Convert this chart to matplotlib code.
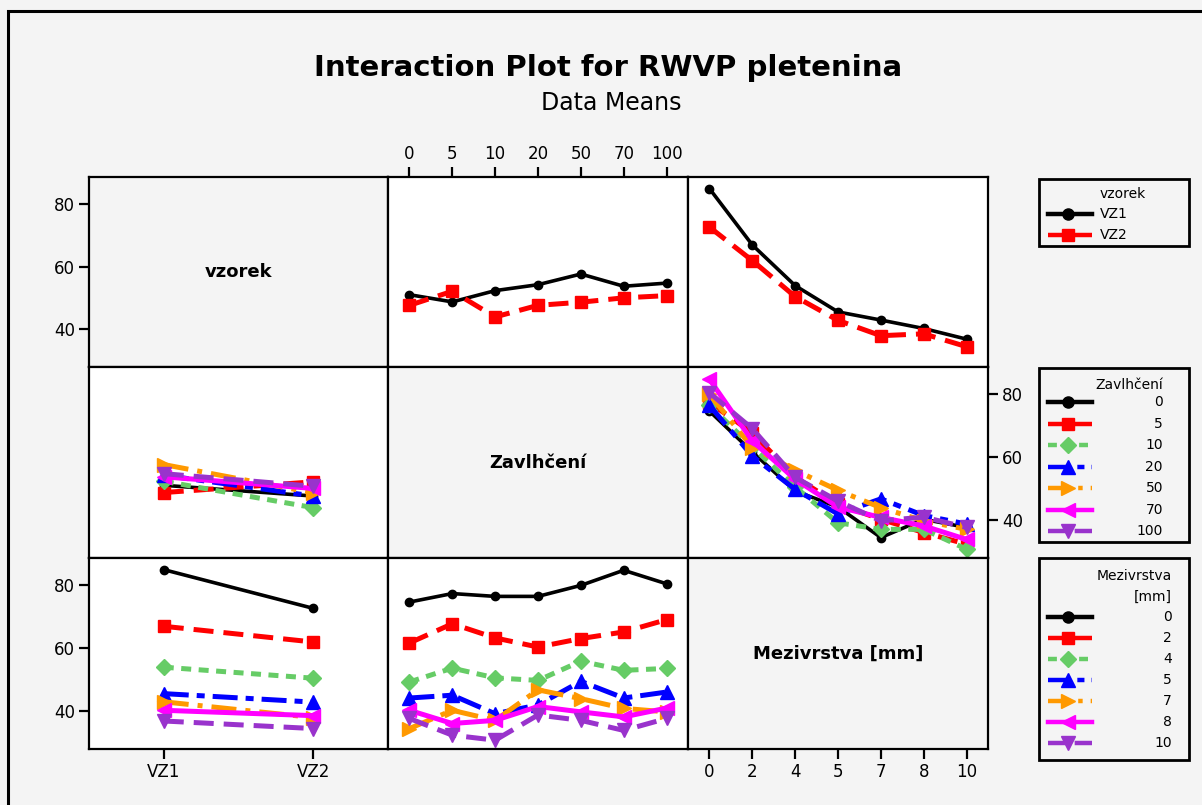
import numpy as np
import matplotlib.pyplot as plt
from matplotlib.patches import Rectangle

W, H = 1202, 805

# factor levels
vzorek = ['VZ1', 'VZ2']
zavlhceni = ['0', '5', '10', '20', '50', '70', '100']
mezivrstva = ['0', '2', '4', '5', '7', '8', '10']

# cell means, rows = first factor level, cols = second factor level
vz_zav = np.array([
    [51.1, 48.8, 52.4, 54.3, 57.7, 53.8, 54.8],
    [47.7, 52.2, 44.0, 47.7, 48.7, 50.1, 50.8],
])
vz_mez = np.array([
    [85.0, 67.0, 54.0, 45.6, 43.0, 40.3, 36.9],
    [72.7, 62.0, 50.5, 42.9, 38.0, 38.6, 34.5],
])
mez_zav = np.array([
    [74.7, 77.4, 76.5, 76.5, 80.0, 84.8, 80.5],
    [61.7, 67.8, 63.3, 60.4, 63.1, 65.2, 69.1],
    [49.3, 53.7, 50.6, 49.8, 55.9, 53.0, 53.6],
    [44.2, 45.1, 39.2, 42.0, 49.5, 44.2, 46.1],
    [34.5, 40.3, 37.1, 46.8, 44.0, 40.9, 39.8],
    [40.3, 36.1, 37.1, 41.5, 39.8, 38.2, 41.0],
    [37.7, 32.4, 30.8, 38.8, 37.1, 33.9, 37.7],
])

factors = {'vz': vzorek, 'zav': zavlhceni, 'mez': mezivrstva}
names = {'vz': 'vzorek', 'zav': 'Zavlhčení', 'mez': 'Mezivrstva [mm]'}
tables = {
    ('vz', 'zav'): vz_zav, ('zav', 'vz'): vz_zav.T,
    ('vz', 'mez'): vz_mez, ('mez', 'vz'): vz_mez.T,
    ('mez', 'zav'): mez_zav, ('zav', 'mez'): mez_zav.T,
}
order = ['vz', 'zav', 'mez']

colors = ['black', '#ff0000', '#66cc66', '#0000ff', '#ff9900', '#ff00ff', '#9933cc']
markers = ['o', 's', 'D', '^', '>', '<', 'v']
dashes = [(None), (4, 2), (2, 1.5), (5, 1.6, 1.6, 1.6), (5, 1.8, 1, 1.8), (None), (4, 2)]
msizes = [6, 8, 8, 10, 10, 10, 10]

bg = '#f4f4f4'
fig = plt.figure(figsize=(W / 100, H / 100), dpi=100, facecolor=bg)
fig.add_artist(Rectangle((8 / W, -0.05), 1.2, 1 - 11 / H + 0.05, fill=False,
                         lw=2.2, ec='black', transform=fig.transFigure))

fig.text(608 / W, 1 - 68 / H, 'Interaction Plot for RWVP pletenina',
         ha='center', va='center', fontsize=21, fontweight='bold')
fig.text(611 / W, 1 - 103 / H, 'Data Means', ha='center', va='center', fontsize=17)

cols = [89, 388, 688, 988]
rows = [177, 367, 558, 749]


def style(k):
    kw = dict(color=colors[k], marker=markers[k], ms=msizes[k],
              lw=2.6 if k == 0 else 3.6, mec=colors[k], mfc=colors[k])
    if dashes[k] is not None:
        kw['dashes'] = dashes[k]
    return kw


for r, fr in enumerate(order):
    for c, fc in enumerate(order):
        x0, x1 = cols[c], cols[c + 1]
        y0, y1 = rows[r], rows[r + 1]
        ax = fig.add_axes([x0 / W, 1 - y1 / H, (x1 - x0) / W, (y1 - y0) / H])
        nx = len(factors[fc])
        ax.set_xlim(0.5, nx + 0.5)
        ax.set_ylim(28.0, 88.7)
        for s in ax.spines.values():
            s.set_linewidth(1.6)
        ax.tick_params(length=7, width=1.6, labelsize=12, pad=3,
                       left=False, labelleft=False, bottom=False, labelbottom=False)
        ax.set_xticks(range(1, nx + 1))
        ax.set_xticklabels(factors[fc])
        ax.set_yticks([40, 60, 80])
        if r == c:
            ax.set_facecolor(bg)
            ax.text(0.5, 0.5, names[fr], transform=ax.transAxes, ha='center',
                    va='center', fontsize=13, fontweight='bold')
        else:
            ax.set_facecolor('white')
            tab = tables[(fr, fc)]
            xs = np.arange(1, nx + 1)
            for k, vals in enumerate(tab):
                ax.plot(xs, vals, **style(k))
        # tick placement on the outer edges of the matrix
        if (r, c) in [(0, 0), (2, 0)]:
            ax.tick_params(left=True, labelleft=True)
        if (r, c) == (1, 2):
            ax.tick_params(right=True, labelright=True)
        if (r, c) == (0, 1):
            ax.tick_params(top=True, labeltop=True)
        if (r, c) in [(2, 0), (2, 2)]:
            ax.tick_params(bottom=True, labelbottom=True)

# legends drawn on a pixel-space overlay
lax = fig.add_axes([0, 0, 1, 1], zorder=5)
lax.set_xlim(0, W)
lax.set_ylim(H, 0)
lax.axis('off')
lax.patch.set_alpha(0)


def legend_box(top, bottom, title_lines, labels, title_y, first_y, step, text_x, ha):
    lax.add_patch(Rectangle((1039, top), 150, bottom - top, fill=False, lw=2, ec='black'))
    for i, t in enumerate(title_lines):
        lax.text(text_x, title_y + i * 21, t, ha=ha, va='center', fontsize=10)
    for k, lab in enumerate(labels):
        y = first_y + k * step
        kw = style(k)
        kw['lw'] = 3.2
        if k == 0:
            kw['ms'] = 8
        lax.plot([1048, 1068, 1092], [y, y, y], markevery=[1], **kw)
        lax.text(text_x, y, lab, ha=ha, va='center', fontsize=10)


legend_box(179, 246, ['vzorek'], vzorek, 194, 214, 21, 1100, 'left')
legend_box(368, 542, ['Zavlhčení'], zavlhceni, 385, 402, 21.5, 1163, 'right')
legend_box(558, 760, ['Mezivrstva', '[mm]'], mezivrstva, 576, 617, 21, 1172, 'right')

fig.savefig('out.png', dpi=100, facecolor=bg)
